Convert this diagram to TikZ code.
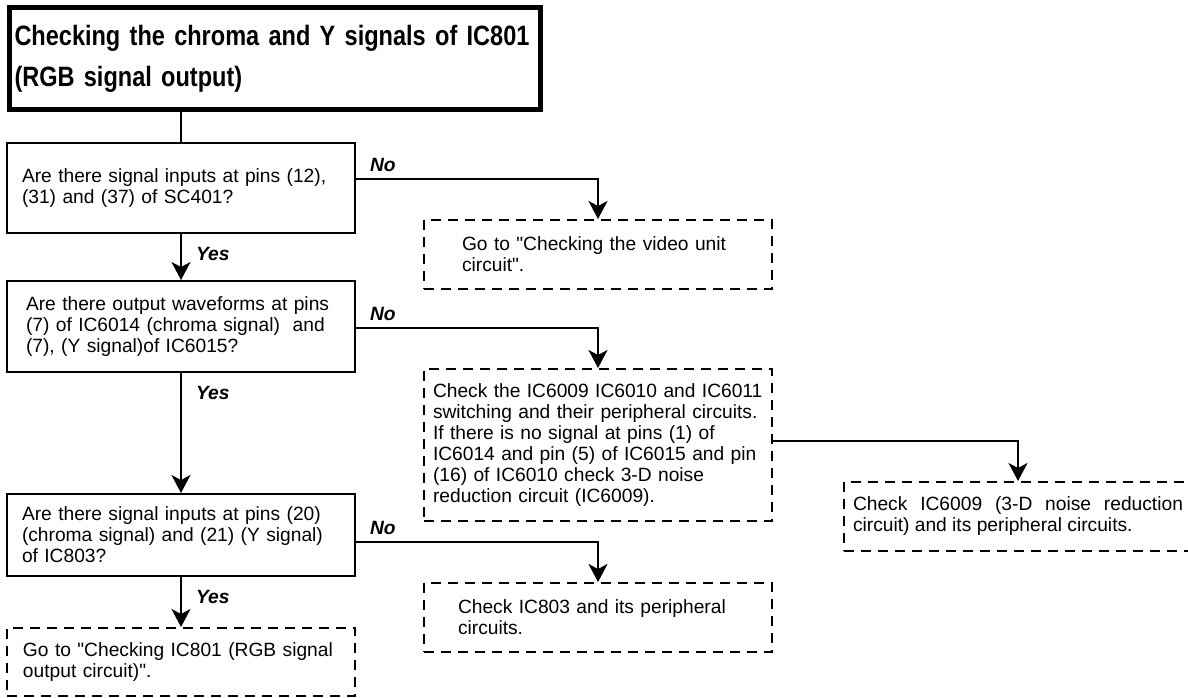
\documentclass[tikz,border=0pt]{standalone}
\usepackage{fontspec}
\setmainfont{Liberation Sans}
\newfontfamily\headfont[FakeStretch=0.84]{Liberation Sans}
\usepackage{tikz}
\usetikzlibrary{
  arrows.meta,
  positioning
}
\newcommand{\flowtext}{\fontsize{19.2}{21}\selectfont}
\tikzset{
  headbox/.style={draw,line width=5pt,anchor=north west,minimum width=531pt,minimum height=102pt,inner xsep=0pt,text width=520pt,align=left,font=\headfont\bfseries\fontsize{28}{41}\selectfont},
  askbox/.style={draw,line width=2pt,minimum width=348pt,inner xsep=0pt,text width=#1,align=left,font=\flowtext},
  askbox/.default=318pt,
  actbox/.style={askbox=#1,dash pattern=on 10pt off 7pt},
  actbox/.default=310pt,
  flowline/.style={line width=2pt},
  flowarrow/.style={-{Stealth[length=18pt,width=19pt,inset=5pt]},line width=2pt},
  answer/.style={font=\flowtext\bfseries\itshape,inner sep=0pt,at start,anchor=base west},
  nolabel/.style={answer,xshift=13pt,yshift=8pt},
  yeslabel/.style={answer,xshift=14pt,yshift=-26pt}
}
\begin{document}
\begin{tikzpicture}[x=1pt,y=1pt,node distance=46pt]
\useasboundingbox (0,0) rectangle (1188,-698);
\node[headbox] (head) at (6.5,-5.5) {Checking the chroma and Y signals of IC801\\(RGB signal output)};

% main column
\node[askbox=318pt, minimum height=90pt, anchor=north west] (q1) at (6,-142) {Are there signal inputs at pins (12),\\(31) and (37) of SC401?};
\node[askbox=310pt, minimum height=91pt, below=46pt of q1] (q2) {Are there output waveforms at pins\\(7) of IC6014 (chroma signal)\ \ and\\(7), (Y signal)of IC6015?};
\node[askbox=318pt, minimum height=82pt, below=120pt of q2] (q3) {Are there signal inputs at pins (20)\\(chroma signal) and (21) (Y signal)\\of IC803?};
\node[actbox=316pt, minimum height=68pt, below=50pt of q3] (g2) {Go to \textquotedbl Checking IC801 (RGB signal\\output circuit)\textquotedbl.};

% side branches
\node[actbox=272pt, minimum height=69pt, anchor=north west] (g1) at (423,-219) {Go to \textquotedbl Checking the video unit\\circuit\textquotedbl.};
\node[actbox=330pt, minimum height=152pt, anchor=north west] (c1) at (423,-368) {Check the IC6009 IC6010 and IC6011\\switching and their peripheral circuits.\\If there is no signal at pins (1) of\\IC6014 and pin (5) of IC6015 and pin\\(16) of IC6010 check 3-D noise\\reduction circuit (IC6009).};
\node[actbox=330pt, align=justify, minimum height=69pt, anchor=north west] (c2) at (843,-481) {Check IC6009 (3-D noise reduction\linebreak circuit) and its peripheral circuits.};
\node[actbox=280pt, minimum height=69pt, anchor=north west] (c3) at (423,-582) {Check IC803 and its peripheral\\circuits.};

\draw[flowline] (q1.north) -- (q1.north |- head.south);
\draw[flowarrow] (q1) -- node[yeslabel] (y1) {Yes} (q2);
\draw[flowarrow] (q2) -- node[yeslabel] (y2) {Yes} (q3);
\draw[flowarrow] (q3) -- node[yeslabel] (y3) {Yes} (g2);

\draw[flowarrow] ([yshift=9pt]q1.east) -| node[nolabel] (n1) {No} (g1.north);
\draw[flowarrow] ([yshift=-1.5pt]q2.east) -| node[nolabel] (n2) {No} (c1.north);
\draw[flowarrow] ([yshift=-7pt]q3.east) -| node[nolabel] (n3) {No} (c3.north);
\draw[flowarrow] ([yshift=4pt]c1.east) -| (c2.north);
\end{tikzpicture}
\end{document}
